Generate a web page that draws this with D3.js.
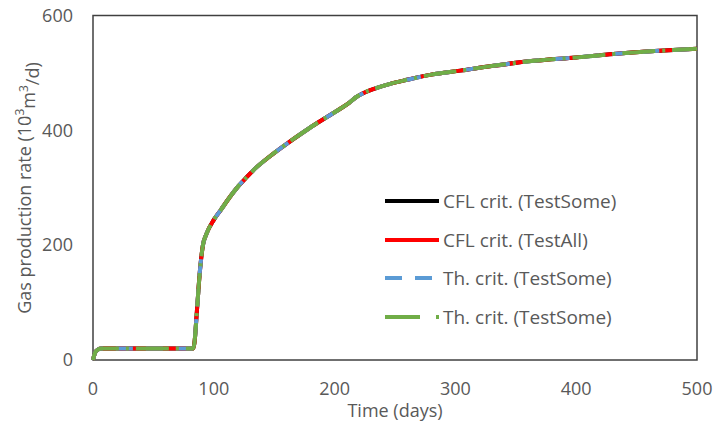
<!DOCTYPE html>
<meta charset="utf-8">
<head>
<title>Gas production rate</title>
</head>
<style>
body { margin: 0; background: #fff; }
text { font-family: "Open Sans", "Liberation Sans", sans-serif; fill: #595959; }
</style>
<body>
<script src="https://d3js.org/d3.v7.min.js"></script>
<script>

// time in days
var days = [0, 1, 2, 4, 7, 83, 84, 86, 88.5, 91, 94, 100, 106, 113, 120, 127, 135, 146, 160, 175,
            185, 195, 205, 212, 218, 224, 235, 246, 260, 280, 304, 330, 365, 400, 431, 465, 500];
// gas rate, 10^3 m3/d (all four runs give the same curve)
var rate = [0, 8, 14, 18, 20, 20, 30, 85, 155, 200, 220, 244, 262, 283, 302, 318, 335, 354, 376, 398,
            412, 425, 438, 448, 458, 465, 474, 481, 488, 497, 504, 512, 521, 527, 533, 538, 542];

var seriesNames = ["CFL crit. (TestSome)", "CFL crit. (TestAll)", "Th. crit. (TestSome)", "Th. crit. (TestSome)"];
var seriesColors = ["#000000", "#ff0000", "#5b9bd5", "#70ad47"];
var seriesDash = [null, null, "17,13", "33,7,3,7"];

var xTicks = [0, 100, 200, 300, 400, 500];
var yTicks = [0, 200, 400, 600];

var width = 716, height = 425;
var margin = {left: 93, right: 19, top: 15.5, bottom: 65};

var svg = d3.select("body")
    .append("svg")
    .attr("width", width)
    .attr("height", height);

var x = d3.scaleLinear().domain([0, 500]).range([margin.left, width - margin.right]);
var y = d3.scaleLinear().domain([0, 600]).range([height - margin.bottom, margin.top]);

var data = days.map(function(d, i) { return {t: d, v: rate[i]}; });

// plot frame
svg.append("rect")
    .attr("x", x(0))
    .attr("y", y(600))
    .attr("width", x(500) - x(0))
    .attr("height", y(0) - y(600))
    .attr("fill", "none")
    .attr("stroke", "#404040")
    .attr("stroke-width", 1.5);

// tick labels
svg.append("g")
    .selectAll("text")
    .data(xTicks)
    .enter()
    .append("text")
    .attr("x", function(d) { return x(d); })
    .attr("y", 389)
    .attr("dy", "0.35em")
    .attr("text-anchor", "middle")
    .attr("font-size", 18)
    .text(function(d) { return d; });

svg.append("g")
    .selectAll("text")
    .data(yTicks)
    .enter()
    .append("text")
    .attr("x", 73)
    .attr("y", function(d) { return y(d); })
    .attr("dy", "0.35em")
    .attr("text-anchor", "end")
    .attr("font-size", 18)
    .text(function(d) { return d; });

// axis titles
svg.append("text")
    .attr("x", (x(0) + x(500)) / 2)
    .attr("y", 411)
    .attr("dy", "0.35em")
    .attr("text-anchor", "middle")
    .attr("font-size", 18)
    .text("Time (days)");

var ytitle = svg.append("text")
    .attr("transform", "translate(25,188) rotate(-90)")
    .attr("dy", "0.35em")
    .attr("text-anchor", "middle")
    .attr("font-size", 18);
ytitle.append("tspan").text("Gas production rate (10");
ytitle.append("tspan").attr("font-size", 12).attr("dy", "-0.6em").text("3");
ytitle.append("tspan").attr("dy", "0.6em").text("m");
ytitle.append("tspan").attr("font-size", 12).attr("dy", "-0.6em").text("3");
ytitle.append("tspan").attr("dy", "0.6em").text("/d)");

// the four runs
var line = d3.line()
    .x(function(d) { return x(d.t); })
    .y(function(d) { return y(d.v); })
    .curve(d3.curveMonotoneX);

seriesNames.forEach(function(name, i) {
    svg.append("path")
        .attr("d", line(data))
        .attr("fill", "none")
        .attr("stroke", seriesColors[i])
        .attr("stroke-width", 4)
        .attr("stroke-linejoin", "round")
        .attr("stroke-dasharray", seriesDash[i]);
});

// legend
var legendY = [201, 240, 278, 317];
var legend = svg.append("g")
    .selectAll("g")
    .data(seriesNames)
    .enter()
    .append("g")
    .attr("transform", function(d, i) { return "translate(385," + legendY[i] + ")"; });

legend.append("line")
    .attr("x1", 0)
    .attr("x2", 54)
    .attr("stroke", function(d, i) { return seriesColors[i]; })
    .attr("stroke-width", 4)
    .attr("stroke-dasharray", function(d, i) { return i == 3 ? "35,16,3,60" : seriesDash[i]; });

legend.append("text")
    .attr("x", 58)
    .attr("dy", "0.35em")
    .attr("font-size", 19)
    .text(function(d) { return d; });

</script>
</body>
